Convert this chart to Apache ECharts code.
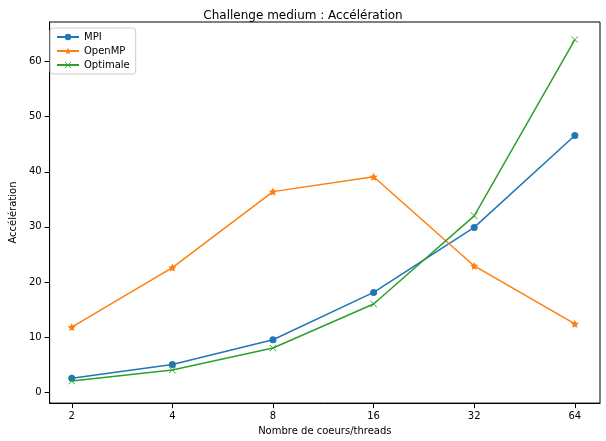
<!DOCTYPE html>
<html><head><meta charset="utf-8">
<script src="https://cdn.jsdelivr.net/npm/echarts@6/dist/echarts.min.js"></script>
<style>body{margin:0}#c{width:606px;height:441px}</style></head>
<body><div id="c"></div>
<script>
const categories = ["2", "4", "8", "16", "32", "64"];
const mpi = [2.5, 5.0, 9.5, 18.1, 29.9, 46.6];
const openmp = [11.8, 22.6, 36.4, 39.1, 22.9, 12.4];
const optimale = [2, 4, 8, 16, 32, 64];
const yTicks = [0, 10, 20, 30, 40, 50, 60];

const star = 'path://M0,-10L2.9,-4L9.5,-3.1L4.7,1.5L5.9,8.1L0,5L-5.9,8.1L-4.7,1.5L-9.5,-3.1L-2.9,-4Z';
const cross = 'path://M-10,-8.6L-8.6,-10L0,-1.4L8.6,-10L10,-8.6L1.4,0L10,8.6L8.6,10L0,1.4L-8.6,10L-10,8.6L-1.4,0Z';
const pts = arr => arr.map((v, i) => [i, v]);
const chart = echarts.init(document.getElementById('c'));
const font = 'DejaVu Sans';
chart.setOption({
  animation: false,
  textStyle: { fontFamily: font },
  title: { text: 'Challenge medium : Accélération', left: 'center', top: 5,
    textStyle: { fontFamily: font, fontSize: 12, fontWeight: 'normal', color: '#000' } },
  legend: { orient: 'vertical', left: 50, top: 28, itemGap: 4, itemWidth: 22, itemHeight: 8,
    borderColor: '#ccc', borderWidth: 1, borderRadius: 3, padding: [4, 6],
    textStyle: { fontSize: 10, color: '#000' } },
  grid: { left: 45, right: 6, top: 22, bottom: 33, show: true, borderColor: '#000', borderWidth: 1 },
  xAxis: { type: 'value', min: -0.22, max: 5.25,
    name: 'Nombre de coeurs/threads', nameLocation: 'middle', nameGap: 22,
    nameTextStyle: { fontSize: 10, color: '#000' },
    axisLine: { onZero: false, lineStyle: { color: '#000' } },
    splitLine: { show: false },
    axisTick: { customValues: [0, 1, 2, 3, 4, 5], lineStyle: { color: '#000' } },
    axisLabel: { customValues: [0, 1, 2, 3, 4, 5], formatter: v => categories[Math.round(v)], fontSize: 10, color: '#000' } },
  yAxis: { type: 'value', min: -2.0, max: 67.2,
    name: 'Accélération', nameLocation: 'middle', nameGap: 30,
    nameTextStyle: { fontSize: 10, color: '#000' },
    axisLine: { show: true, onZero: false, lineStyle: { color: '#000' } },
    splitLine: { show: false },
    axisTick: { show: true, customValues: yTicks, lineStyle: { color: '#000' } },
    axisLabel: { customValues: yTicks, fontSize: 10, color: '#000' } },
  series: [
    { name: 'MPI', type: 'line', data: pts(mpi), symbol: 'circle', symbolSize: 7,
      color: '#1f77b4', lineStyle: { width: 1.5 } },
    { name: 'OpenMP', type: 'line', data: pts(openmp), symbol: star, symbolSize: 8,
      color: '#ff7f0e', lineStyle: { width: 1.5 } },
    { name: 'Optimale', type: 'line', data: pts(optimale), symbol: cross, symbolSize: 7,
      color: '#2ca02c', lineStyle: { width: 1.5 } }
  ]
});
</script></body></html>
